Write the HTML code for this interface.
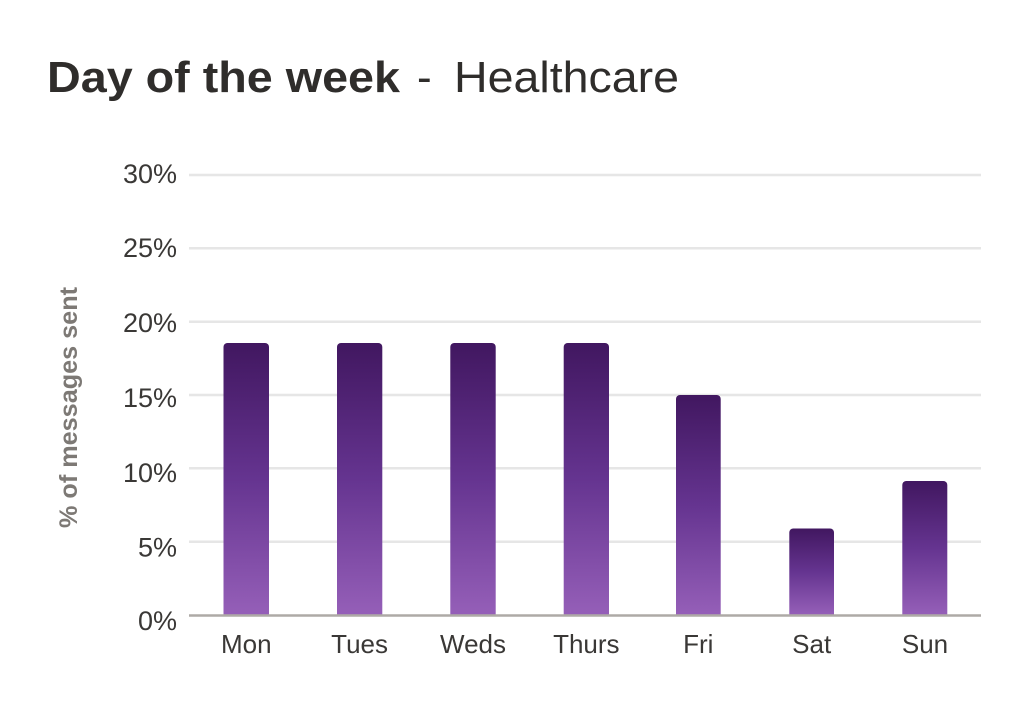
<!DOCTYPE html>
<html>
<head>
<meta charset="utf-8">
<style>
html,body{margin:0;padding:0;background:#fff;}
svg{display:block;}
text{font-family:"Liberation Sans",sans-serif;}
</style>
</head>
<body>
<svg width="1024" height="705" viewBox="0 0 1024 705" xmlns="http://www.w3.org/2000/svg">
<defs>
<linearGradient id="g" x1="0" y1="0" x2="0" y2="1">
<stop offset="0" stop-color="#411760"/>
<stop offset="0.5" stop-color="#653490"/>
<stop offset="1" stop-color="#955fb8"/>
</linearGradient>
</defs>
<rect width="1024" height="705" fill="#fff"/>
<!-- title -->
<text x="47" y="92" font-size="44" font-weight="bold" fill="#2f2d2b" textLength="353" lengthAdjust="spacingAndGlyphs">Day of the week</text>
<text x="417" y="92" font-size="44" fill="#2f2d2b">-</text>
<text x="454" y="92" font-size="44" fill="#2f2d2b" textLength="225" lengthAdjust="spacingAndGlyphs">Healthcare</text>

<!-- gridlines -->
<g stroke="#e6e6e6" stroke-width="2.5">
<line x1="189" y1="175" x2="981" y2="175"/>
<line x1="189" y1="248.3" x2="981" y2="248.3"/>
<line x1="189" y1="321.7" x2="981" y2="321.7"/>
<line x1="189" y1="395" x2="981" y2="395"/>
<line x1="189" y1="468.3" x2="981" y2="468.3"/>
<line x1="189" y1="541.7" x2="981" y2="541.7"/>
</g>

<!-- bars -->
<g fill="url(#g)">
<path d="M223.5,615 V347 a4,4 0 0 1 4,-4 H265 a4,4 0 0 1 4,4 V615 Z"/>
<path d="M337,615 V347 a4,4 0 0 1 4,-4 H378.3 a4,4 0 0 1 4,4 V615 Z"/>
<path d="M450.3,615 V347 a4,4 0 0 1 4,-4 H491.7 a4,4 0 0 1 4,4 V615 Z"/>
<path d="M563.7,615 V347 a4,4 0 0 1 4,-4 H605 a4,4 0 0 1 4,4 V615 Z"/>
<path d="M676,615 V399 a4,4 0 0 1 4,-4 H716.7 a4,4 0 0 1 4,4 V615 Z"/>
<path d="M789.3,615 V532.5 a4,4 0 0 1 4,-4 H830 a4,4 0 0 1 4,4 V615 Z"/>
<path d="M902.3,615 V485 a4,4 0 0 1 4,-4 H943.3 a4,4 0 0 1 4,4 V615 Z"/>
</g>

<!-- baseline -->
<line x1="189" y1="615.5" x2="981" y2="615.5" stroke="#aeaaa6" stroke-width="2.5"/>

<!-- y tick labels -->
<g font-size="27" fill="#3a3836" text-anchor="end">
<text x="177" y="183">30%</text>
<text x="177" y="257">25%</text>
<text x="177" y="332">20%</text>
<text x="177" y="407">15%</text>
<text x="177" y="482">10%</text>
<text x="177" y="556.5">5%</text>
<text x="177" y="630">0%</text>
</g>

<!-- x labels -->
<g font-size="26" fill="#3a3836" text-anchor="middle">
<text x="246.3" y="653">Mon</text>
<text x="359.6" y="653">Tues</text>
<text x="473" y="653">Weds</text>
<text x="586.3" y="653">Thurs</text>
<text x="698.3" y="653">Fri</text>
<text x="811.7" y="653">Sat</text>
<text x="925" y="653">Sun</text>
</g>

<!-- y axis title -->
<text transform="translate(77,528) rotate(-90)" font-size="25" font-weight="bold" fill="#7d7975" textLength="241" lengthAdjust="spacingAndGlyphs">% of messages sent</text>
</svg>
</body>
</html>
